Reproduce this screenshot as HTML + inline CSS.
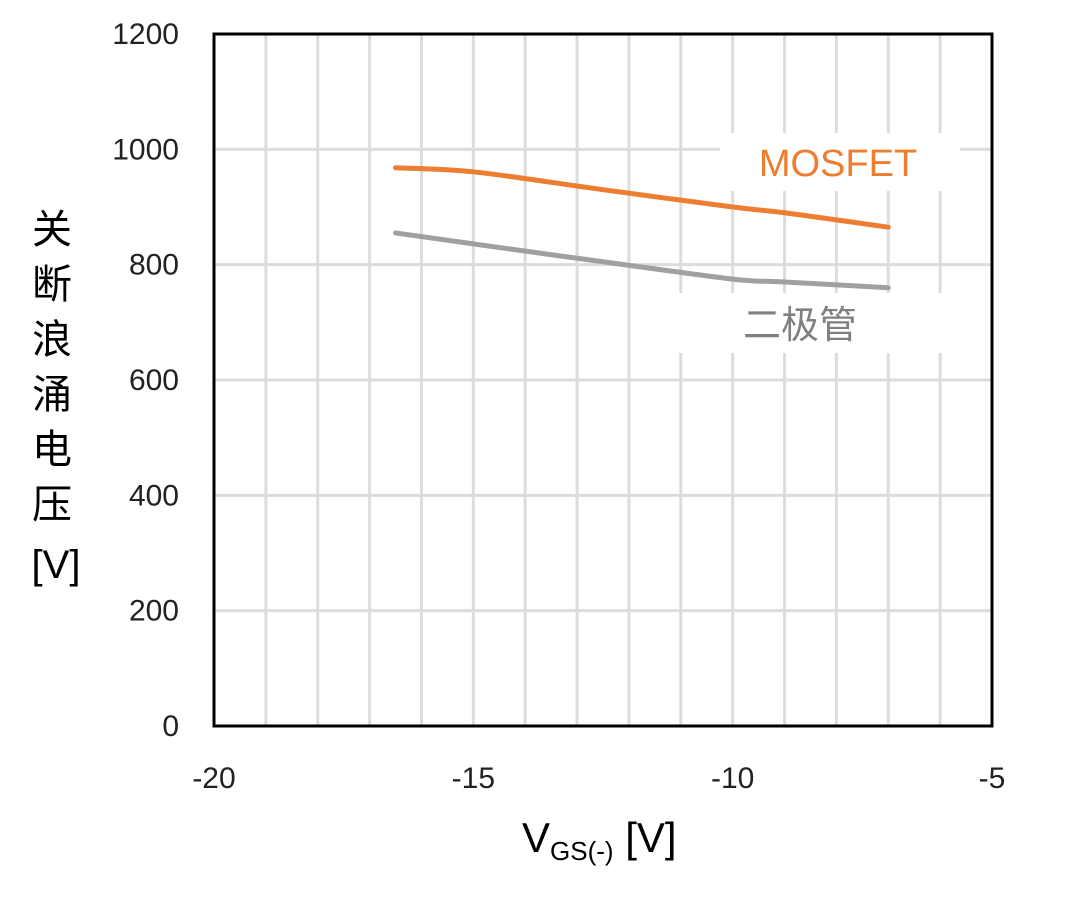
<!DOCTYPE html>
<html><head><meta charset="utf-8"><style>
body{margin:0;background:#fff;width:1080px;height:893px;overflow:hidden;font-family:"Liberation Sans","Noto Sans CJK SC",sans-serif}
</style></head><body>
<svg width="1080" height="893" xmlns="http://www.w3.org/2000/svg">
<g id="grid"></g>
<rect x="720" y="133" width="240" height="58" fill="#fff"/>
<rect x="672" y="293" width="275" height="60" fill="#fff"/>
<g id="series"></g>
<rect x="214" y="34" width="778" height="692" fill="none" stroke="#000" stroke-width="3"/>
<g id="ticks" font-size="30" fill="#222"></g>
<text x="838" y="176" font-size="38" fill="#ed7d31" text-anchor="middle">MOSFET</text>
<text x="800" y="338" font-size="38" fill="#808080" text-anchor="middle">二极管</text>
<g font-size="40" fill="#000" text-anchor="middle">
<text x="52" y="243">关</text><text x="52" y="298">断</text><text x="52" y="353">浪</text><text x="52" y="408">涌</text><text x="52" y="463">电</text><text x="52" y="518">压</text><text x="56" y="578">[V]</text>
</g>
<text x="522" y="852" font-size="42" fill="#000">V<tspan font-size="26" dy="8">GS(-)</tspan><tspan dy="-8"> [V]</tspan></text>
</svg>
<script>
const xTicks=[-20,-15,-10,-5];
const yTicks=[0,200,400,600,800,1000,1200];
const xVals=[-16.5,-15,-12.5,-10,-9,-7];
const mosfet=[968,961,930,900,890,865];
const diode=[855,836,805,775,770,760];
const X=v=>214+(v+20)*778/15, Y=v=>726-v*692/1200;
const NS="http://www.w3.org/2000/svg";
const grid=document.getElementById('grid'),ticks=document.getElementById('ticks'),ser=document.getElementById('series');
function mk(tag,attrs,parent){const e=document.createElementNS(NS,tag);for(const k in attrs)e.setAttribute(k,attrs[k]);parent.appendChild(e);return e;}
for(let v=-19;v<-5;v++){const l=mk('line',{x1:X(v),x2:X(v),y1:34,y2:726,stroke:'#dcdcdc','stroke-width':3},grid);

}
yTicks.forEach(v=>{if(v>0&&v<1200){const l=mk('line',{x1:214,x2:992,y1:Y(v),y2:Y(v),stroke:'#dcdcdc','stroke-width':3},grid);

}
const t=mk('text',{x:179,y:Y(v)+10,'text-anchor':'end'},ticks);t.textContent=v;

});
xTicks.forEach(v=>{const t=mk('text',{x:X(v),y:788,'text-anchor':'middle'},ticks);t.textContent=v;

});
function line(arr,col,name){
const P=xVals.map((x,i)=>[X(x),Y(arr[i])]);
let d='M'+P[0][0]+','+P[0][1];
for(let i=0;i<P.length-1;i++){const p0=P[Math.max(0,i-1)],p1=P[i],p2=P[i+1],p3=P[Math.min(P.length-1,i+2)];
const c1=[p1[0]+(p2[0]-p0[0])/6,p1[1]+(p2[1]-p0[1])/6],c2=[p2[0]-(p3[0]-p1[0])/6,p2[1]-(p3[1]-p1[1])/6];
d+=' C'+c1+' '+c2+' '+p2;}
const p=mk('path',{d:d,fill:'none',stroke:col,'stroke-width':5,'stroke-linecap':'round','stroke-linejoin':'round'},ser);

}
line(diode,'#a0a0a0','diode-line');
line(mosfet,'#ed7d31','mosfet-line');
</script>
</body></html>
